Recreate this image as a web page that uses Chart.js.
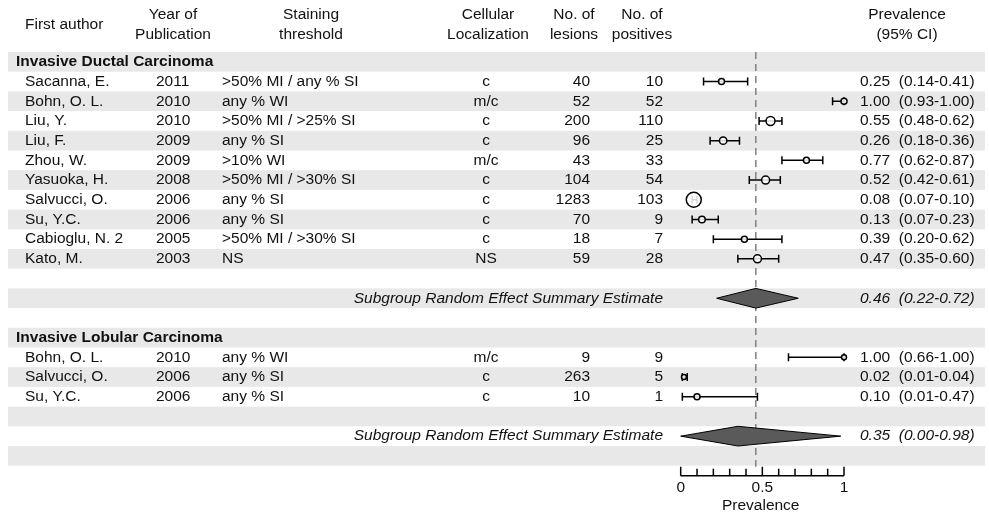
<!DOCTYPE html>
<html>
<head>
<meta charset="utf-8">
<script src="https://cdn.jsdelivr.net/npm/chart.js@4.4.1/dist/chart.umd.min.js"></script>
<style>
  body { margin: 0; background: #fff; }
</style>
</head>
<body>
<canvas id="forest" width="989" height="515"></canvas>
<script>
// Invasive Ductal Carcinoma
const idcAuthors = ['Sacanna, E.', 'Bohn, O. L.', 'Liu, Y.', 'Liu, F.', 'Zhou, W.', 'Yasuoka, H.', 'Salvucci, O.', 'Su, Y.C.', 'Cabioglu, N. 2', 'Kato, M.'];
const idcYears = ['2011', '2010', '2010', '2009', '2009', '2008', '2006', '2006', '2005', '2003'];
const idcThreshold = ['>50% MI / any % SI', 'any % WI', '>50% MI / >25% SI', 'any % SI', '>10% WI', '>50% MI / >30% SI', 'any % SI', 'any % SI', '>50% MI / >30% SI', 'NS'];
const idcLocal = ['c', 'm/c', 'c', 'c', 'm/c', 'c', 'c', 'c', 'c', 'NS'];
const idcLesions = [40, 52, 200, 96, 43, 104, 1283, 70, 18, 59];
const idcPositives = [10, 52, 110, 25, 33, 54, 103, 9, 7, 28];
const idcPrev = [0.25, 1.00, 0.55, 0.26, 0.77, 0.52, 0.08, 0.13, 0.39, 0.47];
const idcLow = [0.14, 0.93, 0.48, 0.18, 0.62, 0.42, 0.07, 0.07, 0.20, 0.35];
const idcHigh = [0.41, 1.00, 0.62, 0.36, 0.87, 0.61, 0.10, 0.23, 0.62, 0.60];
const idcWeight = [3, 3, 4.5, 3.7, 3, 4, 7.5, 3.3, 3, 4];
const idcSummary = [0.46, 0.22, 0.72];

// Invasive Lobular Carcinoma
const ilcAuthors = ['Bohn, O. L.', 'Salvucci, O.', 'Su, Y.C.'];
const ilcYears = ['2010', '2006', '2006'];
const ilcThreshold = ['any % WI', 'any % SI', 'any % SI'];
const ilcLocal = ['m/c', 'c', 'c'];
const ilcLesions = [9, 263, 10];
const ilcPositives = [9, 5, 1];
const ilcPrev = [1.00, 0.02, 0.10];
const ilcLow = [0.66, 0.01, 0.01];
const ilcHigh = [1.00, 0.04, 0.47];
const ilcWeight = [2.5, 2.5, 3];
const ilcSummary = [0.35, 0.00, 0.98];

const refLine = 0.46;
const xTicks = [0, 0.1, 0.2, 0.3, 0.4, 0.5, 0.6, 0.7, 0.8, 0.9, 1];
const xTickLabels = {0: '0', 0.5: '0.5', 1: '1'};

// construir filas
const rows = [];
function addGroup(title, au, yr, th, loc, les, pos, pr, lo, hi, w, summ) {
  rows.push({ type: 'header', text: title });
  au.forEach(function(a, i) {
    rows.push({ type: 'study', author: a, year: yr[i], thr: th[i], loc: loc[i],
      les: les[i], pos: pos[i], est: pr[i], lo: lo[i], hi: hi[i], r: w[i] });
  });
  rows.push({ type: 'blank' });
  rows.push({ type: 'summary', est: summ[0], lo: summ[1], hi: summ[2] });
  rows.push({ type: 'blank' });
}
addGroup('Invasive Ductal Carcinoma', idcAuthors, idcYears, idcThreshold, idcLocal, idcLesions, idcPositives, idcPrev, idcLow, idcHigh, idcWeight, idcSummary);
addGroup('Invasive Lobular Carcinoma', ilcAuthors, ilcYears, ilcThreshold, ilcLocal, ilcLesions, ilcPositives, ilcPrev, ilcLow, ilcHigh, ilcWeight, ilcSummary);

const studyPoints = [];
const studyRadius = [];
rows.forEach(function(r, i) {
  if (r.type === 'study') {
    studyPoints.push({ x: r.est, y: i });
    studyRadius.push(r.r);
  }
});

const FONT = '"Liberation Sans", Arial, Helvetica, sans-serif';
const fmt = v => v.toFixed(2);

const forestPlugin = {
  id: 'forest',
  beforeDatasetsDraw(chart) {
    const ctx = chart.ctx;
    const xs = chart.scales.x, ys = chart.scales.y;
    const rowH = Math.abs(ys.getPixelForValue(1) - ys.getPixelForValue(0));
    ctx.save();
    // bandas alternas
    rows.forEach(function(r, i) {
      if (i % 2 === 0) {
        ctx.fillStyle = '#e8e8e8';
        ctx.fillRect(8, ys.getPixelForValue(i) - rowH / 2, 977, rowH);
      }
    });
    // encabezados
    ctx.fillStyle = '#111';
    ctx.font = '15.5px ' + FONT;
    ctx.textBaseline = 'middle';
    ctx.textAlign = 'left';
    ctx.fillText('First author', 25, 25);
    ctx.textAlign = 'center';
    [['Year of', 'Publication', 173], ['Staining', 'threshold', 311], ['Cellular', 'Localization', 488],
     ['No. of', 'lesions', 574], ['No. of', 'positives', 642], ['Prevalence', '(95% CI)', 907]].forEach(function(h) {
      ctx.fillText(h[0], h[2], 15);
      ctx.fillText(h[1], h[2], 35);
    });
    // texto de filas
    rows.forEach(function(r, i) {
      const y = ys.getPixelForValue(i);
      if (r.type === 'header') {
        ctx.font = 'bold 15.5px ' + FONT;
        ctx.textAlign = 'left';
        ctx.fillText(r.text, 16, y);
      } else if (r.type === 'study') {
        ctx.font = '15.5px ' + FONT;
        ctx.textAlign = 'left';
        ctx.fillText(r.author, 25, y);
        ctx.fillText(r.year, 156, y);
        ctx.fillText(r.thr, 222, y);
        ctx.fillText(fmt(r.est) + '  (' + fmt(r.lo) + '-' + fmt(r.hi) + ')', 860, y);
        ctx.textAlign = 'center';
        ctx.fillText(r.loc, 486, y);
        ctx.textAlign = 'right';
        ctx.fillText(String(r.les), 590, y);
        ctx.fillText(String(r.pos), 663, y);
      } else if (r.type === 'summary') {
        ctx.font = 'italic 15.5px ' + FONT;
        ctx.textAlign = 'right';
        ctx.fillText('Subgroup Random Effect Summary Estimate', 663, y);
        ctx.textAlign = 'left';
        ctx.fillText(fmt(r.est) + '  (' + fmt(r.lo) + '-' + fmt(r.hi) + ')', 860, y);
      }
    });
    // linea de referencia
    const xr = xs.getPixelForValue(refLine);
    ctx.strokeStyle = '#808080';
    ctx.lineWidth = 1.5;
    ctx.setLineDash([7, 5]);
    ctx.beginPath();
    ctx.moveTo(xr, ys.top);
    ctx.lineTo(xr, ys.bottom + 1);
    ctx.stroke();
    ctx.setLineDash([]);
    // intervalos de confianza
    ctx.strokeStyle = '#000';
    ctx.lineWidth = 1.5;
    rows.forEach(function(r, i) {
      if (r.type !== 'study') return;
      const y = ys.getPixelForValue(i);
      const x1 = xs.getPixelForValue(r.lo), x2 = xs.getPixelForValue(r.hi);
      ctx.beginPath();
      ctx.moveTo(x1, y); ctx.lineTo(x2, y);
      ctx.moveTo(x1, y - 4); ctx.lineTo(x1, y + 4);
      ctx.moveTo(x2, y - 4); ctx.lineTo(x2, y + 4);
      ctx.stroke();
    });
    // eje x
    const base = ys.bottom + 10;
    ctx.beginPath();
    ctx.moveTo(xs.getPixelForValue(0), base);
    ctx.lineTo(xs.getPixelForValue(1), base);
    xTicks.forEach(function(t) {
      const px = xs.getPixelForValue(t);
      const len = (t in xTickLabels) ? 9 : 7;
      ctx.moveTo(px, base); ctx.lineTo(px, base - len);
    });
    ctx.stroke();
    ctx.font = '15.5px ' + FONT;
    ctx.textAlign = 'center';
    ctx.fillStyle = '#111';
    Object.keys(xTickLabels).forEach(function(k) {
      ctx.fillText(xTickLabels[k], xs.getPixelForValue(parseFloat(k)), base + 12);
    });
    ctx.fillText('Prevalence', xs.getPixelForValue(0.49), base + 30);
    ctx.restore();
  },
  afterDatasetsDraw(chart) {
    const ctx = chart.ctx;
    const xs = chart.scales.x, ys = chart.scales.y;
    ctx.save();
    rows.forEach(function(r, i) {
      if (r.type !== 'summary') return;
      const y = ys.getPixelForValue(i);
      const h = Math.abs(ys.getPixelForValue(0.5) - ys.getPixelForValue(0));
      ctx.beginPath();
      ctx.moveTo(xs.getPixelForValue(r.lo), y);
      ctx.lineTo(xs.getPixelForValue(r.est), y - h);
      ctx.lineTo(xs.getPixelForValue(r.hi), y);
      ctx.lineTo(xs.getPixelForValue(r.est), y + h);
      ctx.closePath();
      ctx.fillStyle = '#5a5a5a';
      ctx.fill();
      ctx.strokeStyle = '#000';
      ctx.lineWidth = 1;
      ctx.stroke();
    });
    ctx.restore();
  }
};

new Chart(document.getElementById('forest'), {
  type: 'scatter',
  data: {
    datasets: [{
      data: studyPoints,
      pointRadius: studyRadius,
      pointBackgroundColor: 'rgba(255,255,255,0.85)',
      pointBorderColor: '#000',
      pointBorderWidth: 1.5,
      clip: false
    }]
  },
  options: {
    responsive: false,
    animation: false,
    layout: { padding: { left: 680.7, right: 145, top: 52, bottom: 49.3 } },
    scales: {
      x: { type: 'linear', min: 0, max: 1, display: false },
      y: { type: 'linear', min: -0.5, max: rows.length - 0.5, reverse: true, display: false }
    },
    plugins: { legend: { display: false }, tooltip: { enabled: false } }
  },
  plugins: [forestPlugin]
});
</script>
</body>
</html>
